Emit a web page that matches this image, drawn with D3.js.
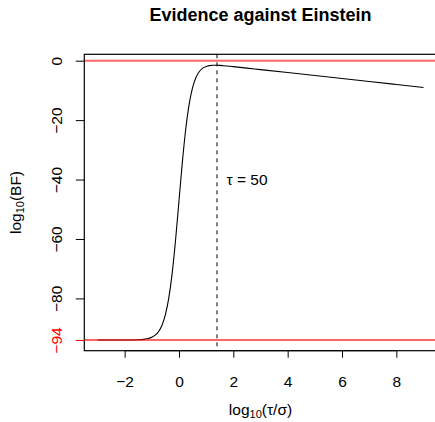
<!DOCTYPE html>
<html>
<head>
<meta charset="utf-8">
<script src="https://cdn.jsdelivr.net/npm/d3@7"></script>
<style>
  html, body { margin: 0; padding: 0; background: #fff; }
  svg { display: block; font-family: "Liberation Sans", Arial, sans-serif; }
</style>
</head>
<body>
<svg id="chart" width="435" height="422"></svg>
<script>
// ---- data ----
const logTau = [-3, -2.5, -2, -1.5, -1.25, -1.125, -1, -0.875, -0.75, -0.625, -0.5, -0.375, -0.25, -0.125,
  0, 0.125, 0.25, 0.375, 0.5, 0.625, 0.75, 0.875, 1, 1.125, 1.25, 1.375, 1.5, 1.625, 1.75, 1.875,
  2, 2.5, 3, 4, 5, 6, 7, 8, 9];
const logBF = [-94.0, -94.0, -93.99, -93.91, -93.7, -93.48, -93.07, -92.36, -91.13, -89.01, -85.48, -79.84, -71.48, -60.26,
  -47.15, -34.06, -22.9, -14.6, -9.07, -5.64, -3.64, -2.52, -1.93, -1.65, -1.55, -1.54, -1.59, -1.68, -1.78, -1.89,
  -2.01, -2.5, -3.0, -4.0, -5.0, -6.0, -7.0, -8.0, -9.0];
const xTicks = [-2, 0, 2, 4, 6, 8];
const yTicks = [0, -20, -40, -60, -80];
const yRedTick = -94;
const hLines = [0, -94];
const tauLine = 1.398;      // log10(50/2)
const tauLabelY = -40;
const titleText = "Evidence against Einstein";

// ---- layout ----
const FS = 15.5;
const svg = d3.select("#chart");
const x = d3.scaleLinear().domain([-3.485, 9.485]).range([84.3, 436.7]);
const y = d3.scaleLinear().domain([-97.6, 2.15]).range([350.7, 54.3]);
const fmt = v => (v < 0 ? "\u2212" + Math.abs(v) : String(v));

// curve
svg.append("path")
  .datum(logTau.map((d, i) => [d, logBF[i]]))
  .attr("fill", "none")
  .attr("stroke", "#000")
  .attr("stroke-width", 1.1)
  .attr("d", d3.line().x(d => x(d[0])).y(d => y(d[1])).curve(d3.curveMonotoneX));

// dashed tau line
svg.append("line")
  .attr("x1", x(tauLine)).attr("x2", x(tauLine))
  .attr("y1", y.range()[1]).attr("y2", y.range()[0])
  .attr("stroke", "#000").attr("stroke-width", 1)
  .attr("stroke-dasharray", "4,4");

// red horizontal lines
svg.selectAll("line.h").data(hLines).enter().append("line")
  .attr("class", "h")
  .attr("x1", x.range()[0]).attr("x2", x.range()[1])
  .attr("y1", d => y(d)).attr("y2", d => y(d))
  .attr("stroke", "rgba(255,0,0,0.6)").attr("stroke-width", 2);

// box
svg.append("rect")
  .attr("x", 84.3).attr("y", 54.3)
  .attr("width", 436.7 - 84.3).attr("height", 350.7 - 54.3)
  .attr("fill", "none").attr("stroke", "#000").attr("stroke-width", 1.2);

// x axis
const xAxis = svg.append("g").attr("transform", "translate(0,350.7)")
  .call(d3.axisBottom(x).tickValues(xTicks).tickSize(7).tickPadding(18).tickFormat(fmt));
xAxis.select(".domain").attr("d", `M${x(xTicks[0])},0H${x(xTicks[xTicks.length-1])}`).attr("stroke", "#000");
xAxis.selectAll("text").attr("font-size", FS).attr("fill", "#000")
  .attr("font-family", "Liberation Sans, Arial, sans-serif");

// y axis
const yAxis = svg.append("g").attr("transform", "translate(84.3,0)")
  .call(d3.axisLeft(y).tickValues(yTicks.concat([yRedTick])).tickSize(8.5).tickFormat(fmt));
yAxis.select(".domain").remove();
yAxis.selectAll(".tick text")
  .attr("font-size", FS)
  .attr("font-family", "Liberation Sans, Arial, sans-serif")
  .attr("transform", "rotate(-90)")
  .attr("x", 0).attr("y", -22.6).attr("dy", "0")
  .attr("text-anchor", "middle")
  .attr("fill", d => d === yRedTick ? "red" : "#000");
yAxis.selectAll(".tick line").attr("stroke", d => d === yRedTick ? "red" : "#000");

// tau label
svg.append("text")
  .attr("x", x(tauLine) + 9.5).attr("y", y(tauLabelY) + 5.5)
  .attr("font-size", FS)
  .text("\u03C4 = 50");

// title
svg.append("text")
  .attr("x", 260.5).attr("y", 21)
  .attr("text-anchor", "middle")
  .attr("font-size", 18).attr("font-weight", "bold")
  .text(titleText);

// x title
const xt = svg.append("text")
  .attr("x", 260.5).attr("y", 415)
  .attr("text-anchor", "middle")
  .attr("font-size", FS);
xt.append("tspan").text("log");
xt.append("tspan").attr("font-size", 11).attr("dy", 3).text("10");
xt.append("tspan").attr("dy", -3).text("(\u03C4/\u03C3)");

// y title
const yt = svg.append("text")
  .attr("transform", `translate(21,${(54.3 + 350.7) / 2}) rotate(-90)`)
  .attr("text-anchor", "middle")
  .attr("font-size", FS);
yt.append("tspan").text("log");
yt.append("tspan").attr("font-size", 11).attr("dy", 3).text("10");
yt.append("tspan").attr("dy", -3).text("(BF)");
</script>
</body>
</html>
